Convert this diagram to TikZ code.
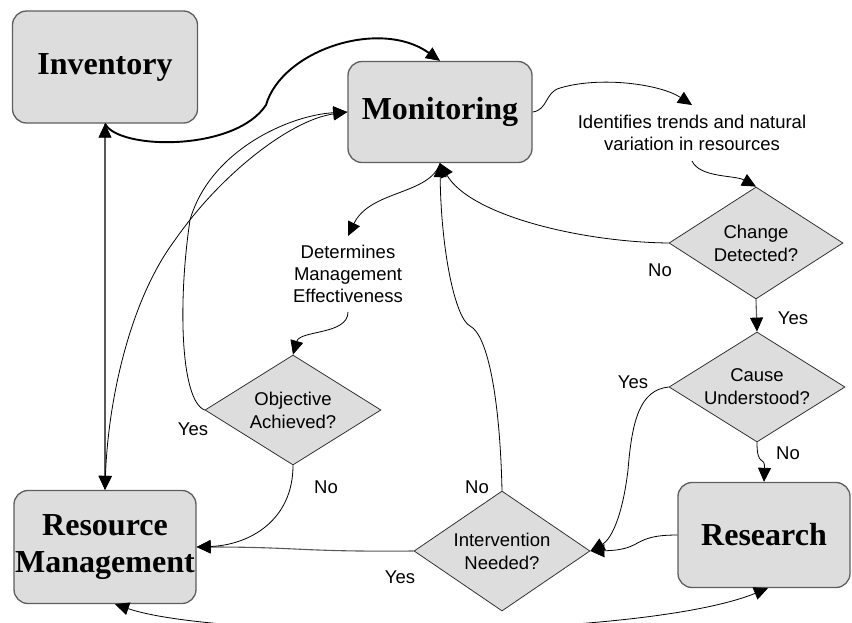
\documentclass[tikz,border=0pt]{standalone}
\usepackage{fontspec}
\setmainfont{Liberation Serif}
\newfontfamily\sansface{Liberation Sans}
\usetikzlibrary{arrows.meta,shapes.geometric}

\definecolor{boxfill}{HTML}{DDDDDD}
\definecolor{boxline}{HTML}{5E5E5E}

\tikzset{
  box/.style={draw=boxline, line width=1.3pt, fill=boxfill, rounded corners=14pt,
    font=\fontsize{32}{37}\selectfont\bfseries, align=center, inner sep=0pt},
  decision/.style={diamond, draw=black!80, line width=0.8pt, fill=boxfill,
    inner sep=0pt, shape aspect=1.6, align=center,
    font=\sansface\fontsize{18.5}{23}\selectfont},
  note/.style={align=center, inner xsep=0pt,
    font=\sansface\fontsize{18.5}{22}\selectfont},
  lbl/.style={inner sep=0pt, font=\sansface\fontsize{18.5}{22}\selectfont},
  tip/.style={-{Triangle[length=14pt,width=13pt,color=black,line width=0.8pt]}},
  bitip/.style={{Triangle[length=14pt,width=13pt,color=black,line width=0.8pt]}-{Triangle[length=14pt,width=13pt,color=black,line width=0.8pt]}},
  link/.style={line width=0.8pt, black},
  greylink/.style={line width=1.1pt, black!65},
  heavylink/.style={line width=1.9pt, black}
}

\begin{document}
\begin{tikzpicture}[x=1pt,y=-1pt]
\useasboundingbox (0,0) rectangle (852,622);
\clip (0,0) rectangle (852,622);

% process boxes
\node[box, minimum width=185pt, minimum height=112pt] (inv) at (105,67) {Inventory};
\node[box, minimum width=184pt, minimum height=101pt] (mon) at (440,112) {Monitoring};
\node[box, minimum width=182pt, minimum height=113pt] (rm) at (105,547) {Resource\\Management};
\node[box, minimum width=172pt, minimum height=105pt] (res) at (764,535) {Research};

% decisions
\node[decision, minimum width=174pt, minimum height=112pt] (cd) at (756,243) {Change\\Detected?};
\node[decision, minimum width=176pt, minimum height=110pt] (cu) at (757,387) {Cause\\Understood?};
\node[decision, minimum width=176pt, minimum height=110pt] (oa) at (293,410) {Objective\\Achieved?};
\node[decision, minimum width=176pt, minimum height=120pt] (in) at (502,551) {Intervention\\Needed?};

% explanatory notes
\node[note, inner ysep=10pt] (idt) at (692,133) {Identifies trends and natural\\variation in resources};
\node[note, inner ysep=9pt] (det) at (348,274) {Determines\\Management\\Effectiveness};

% branch labels
\node[lbl] (cdno)  at (660,270) {No};
\node[lbl] (cdyes) at (793,318) {Yes};
\node[lbl] (cuyes) at (633,382) {Yes};
\node[lbl] (cuno)  at (788,453) {No};
\node[lbl] (oayes) at (193,429) {Yes};
\node[lbl] (oano)  at (326,487) {No};
\node[lbl] (inno)  at (477,487) {No};
\node[lbl] (inyes) at (400,577) {Yes};

% inventory <-> monitoring
\draw[heavylink, tip] (inv.south) .. controls (118,150) and (235,152) .. (266,105)
  .. controls (282,50) and (380,18) .. (mon.north);

% inventory <-> resource management
\draw[greylink, bitip] (inv.south) -- (rm.north);

% resource management <-> monitoring
\draw[link, bitip] (rm.north) .. controls (108,400) and (130,300) .. (175,240)
  .. controls (220,175) and (290,120) .. (mon.west);

% monitoring -> note -> change detected
\draw[link, tip] (mon.east) .. controls (548,110) and (545,92) .. (560,88)
  .. controls (600,76) and (660,84) .. (idt.north);
\draw[link, tip] (idt.south) .. controls (700,178) and (735,175) .. (cd.north);

% change detected
\draw[link, tip] (cd.west) .. controls (580,242) and (470,215) .. (mon.south);
\draw[greylink, tip] (cd.south) -- (cu.north);

% cause understood
\draw[link, tip] (cu.west) .. controls (640,390) and (632,420) .. (628,470)
  .. controls (622,520) and (610,540) .. (in.east);
\draw[link, tip] (cu.south) .. controls (757,468) and (765,455) .. (res.north);

% research -> intervention
\draw[link, tip] (res.west) .. controls (630,535) and (645,550) .. (in.east);

% intervention needed
\draw[link, tip] (in.north) .. controls (500,400) and (488,335) .. (470,326)
  .. controls (455,318) and (441,250) .. (mon.south);
\draw[greylink, tip] (in.west) .. controls (300,552) and (300,547) .. (rm.east);

% monitoring -> effectiveness note -> objective achieved
\draw[link, tip] (mon.south) .. controls (430,195) and (370,190) .. (det.north);
\draw[link, tip] (det.south) .. controls (348,335) and (300,330) .. (oa.north);

% objective achieved
\draw[link, tip] (oa.west) .. controls (180,400) and (178,300) .. (190,220)
  .. controls (210,150) and (290,115) .. (mon.west);
\draw[link, tip] (oa.south) .. controls (293,520) and (250,545) .. (rm.east);

% resource management <-> research, running below
\draw[link, bitip] ([xshift=10pt]rm.south) .. controls (220,640) and (640,640) .. ([xshift=4pt]res.south);
\end{tikzpicture}
\end{document}
